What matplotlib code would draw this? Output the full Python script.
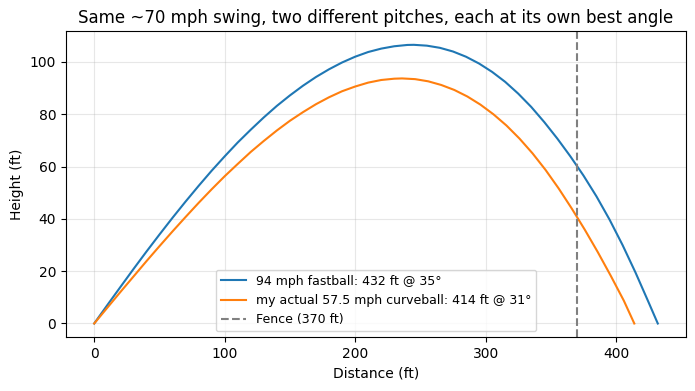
import matplotlib
matplotlib.use("Agg")
import matplotlib.pyplot as plt

# Fastball trajectory (distance ft, height ft)
fast_x = [0, 10, 20, 30, 40, 50, 60, 70, 80, 90, 100, 110, 120, 130, 140, 150,
          160, 170, 180, 190, 200, 210, 220, 230, 240, 245, 255, 265, 275, 285,
          295, 305, 315, 325, 335, 345, 355, 365, 375, 385, 395, 405, 415, 425, 432]
fast_y = [0, 7.0, 13.9, 20.75, 27.46, 34.0, 40.4, 46.6, 52.6, 58.4, 63.9, 69.2,
          74.1, 78.8, 83.2, 87.2, 90.9, 94.25, 97.2, 99.8, 102.0, 103.8, 105.1,
          106.0, 106.5, 106.55, 106.23, 105.4, 104.0, 102.0, 99.4, 96.2, 92.4,
          87.9, 82.8, 77.0, 70.7, 63.9, 56.6, 48.6, 39.75, 30.0, 19.4, 8.05, 0]

# Curveball trajectory
curve_x = [0, 10, 20, 30, 40, 50, 60, 70, 80, 90, 100, 110, 120, 130, 140, 150,
           160, 170, 180, 190, 200, 210, 220, 230, 236, 246, 256, 266, 276, 286,
           296, 306, 316, 326, 336, 346, 356, 366, 376, 386, 396, 406, 414]
curve_y = [0, 6.0, 12.0, 17.9, 23.8, 29.55, 35.2, 40.7, 46.1, 51.3, 56.3, 61.0,
           65.6, 69.8, 73.8, 77.5, 80.8, 83.85, 86.5, 88.8, 90.6, 92.1, 93.1,
           93.6, 93.7, 93.43, 92.6, 91.2, 89.3, 86.8, 83.7, 80.0, 75.7, 70.7,
           65.05, 58.7, 51.65, 44.0, 35.9, 27.3, 18.2, 8.7, 0]

fence = 370
labels = ["94 mph fastball: 432 ft @ 35°",
          "my actual 57.5 mph curveball: 414 ft @ 31°",
          "Fence (370 ft)"]
title = "Same ~70 mph swing, two different pitches, each at its own best angle"

fig = plt.figure(figsize=(6.95, 3.91), dpi=100)
ax = fig.add_axes([0.095, 0.137, 0.892, 0.784])
ax.plot(fast_x, fast_y, color="#1f77b4", label=labels[0])
ax.plot(curve_x, curve_y, color="#ff7f0e", label=labels[1])
ax.axvline(fence, color="gray", linestyle="--", label=labels[2])
ax.set_xlabel("Distance (ft)")
ax.set_ylabel("Height (ft)")
ax.set_title(title)
ax.grid(True, alpha=0.3)
ax.legend(loc="lower center", fontsize=9)
fig.savefig("out.png", dpi=100)
